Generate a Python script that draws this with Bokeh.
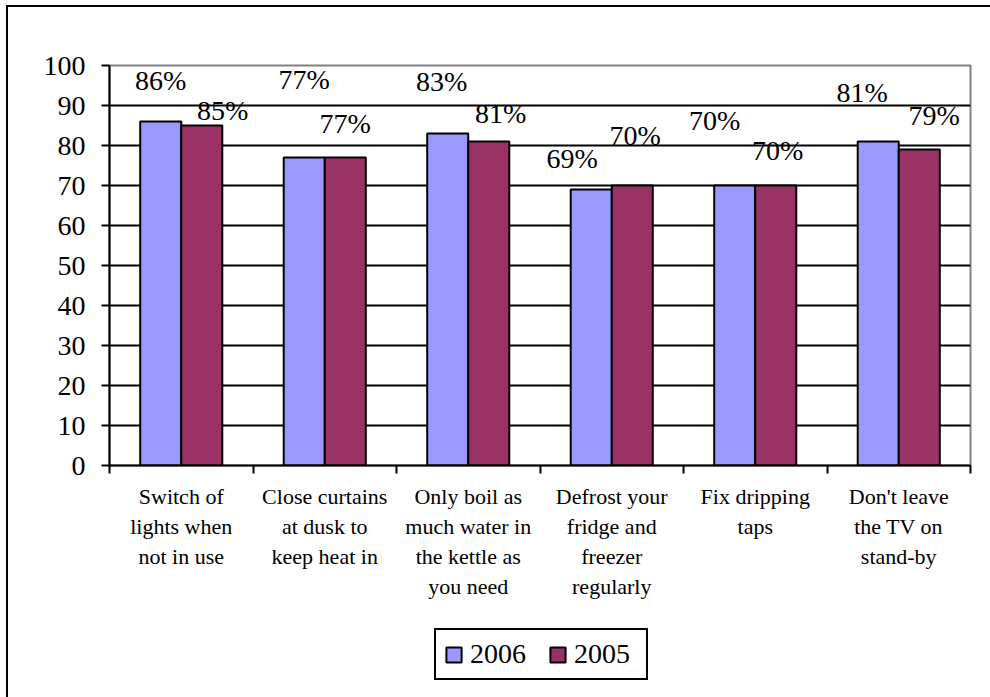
from bokeh.plotting import figure
from bokeh.models import (Range1d, FixedTicker, LinearAxis, Legend, LegendItem,
                          ColumnDataSource, Grid, Column)
from bokeh.transform import dodge
from bokeh.core.properties import value
from bokeh.embed import file_html
from bokeh.resources import INLINE

# ---------------- data ----------------
categories = [
    "Switch of\nlights when\nnot in use",
    "Close curtains\nat dusk to\nkeep heat in",
    "Only boil as\nmuch water in\nthe kettle as\nyou need",
    "Defrost your\nfridge and\nfreezer\nregularly",
    "Fix dripping\ntaps",
    "Don't leave\nthe TV on\nstand-by",
]
series_names = ["2006", "2005"]
values_2006 = [86, 77, 83, 69, 70, 81]
values_2005 = [85, 77, 81, 70, 70, 79]
y_ticks = [0, 10, 20, 30, 40, 50, 60, 70, 80, 90, 100]

# ---------------- layout / style (label nudges in screen px) ----------------
nudge_2006_x = [0, 0, -6, -19, -20, -16]
nudge_2006_y = [-41, -78, -52, -31, -65, -49]
nudge_2005_x = [21, 0, 12, 3, 2, 15]
nudge_2005_y = [-15, -34, -28, -50, -35, -34]
BAR_W = 0.286
FONT = "Liberation Serif"
C2006 = "#9999FF"
C2005 = "#993366"

n = len(categories)
centers = [i + 0.5 for i in range(n)]
bounds = [float(i) for i in range(n + 1)]

src = ColumnDataSource(dict(
    pos=centers,
    v2006=values_2006,
    v2005=values_2005,
    l2006=[f"{v}%" for v in values_2006],
    l2005=[f"{v}%" for v in values_2005],
    dx06=nudge_2006_x, dy06=nudge_2006_y,
    dx05=nudge_2005_x, dy05=nudge_2005_y,
))

p = figure(width=990, height=610, x_range=Range1d(0, n), y_range=Range1d(0, 100),
           output_backend="svg", toolbar_location=None,
           x_axis_type=None, y_axis_type=None,
           min_border_left=109, min_border_right=20, min_border_top=65,
           min_border_bottom=145)
p.background_fill_color = "white"
p.border_fill_color = None
p.outline_line_color = "#808080"
p.outline_line_width = 2

# grid
p.add_layout(Grid(dimension=1, ticker=FixedTicker(ticks=y_ticks[1:-1]),
                  grid_line_color="black", grid_line_width=2))

# axes
yaxis = LinearAxis(ticker=FixedTicker(ticks=y_ticks),
                   axis_line_color="black", axis_line_width=2,
                   major_tick_line_color="black", major_tick_line_width=2,
                   major_tick_out=8, major_tick_in=0,
                   minor_tick_line_color=None,
                   major_label_text_font=FONT, major_label_text_font_size="28px",
                   major_label_text_color="black", major_label_standoff=16)
p.add_layout(yaxis, "left")

xaxis = LinearAxis(ticker=FixedTicker(ticks=centers, minor_ticks=bounds),
                   axis_line_color="black", axis_line_width=2,
                   major_tick_line_color=None, major_tick_out=0, major_tick_in=0,
                   minor_tick_line_color="black", minor_tick_line_width=2,
                   minor_tick_out=8, minor_tick_in=0,
                   major_label_overrides={c: lab for c, lab in zip(centers, categories)},
                   major_label_text_font=FONT, major_label_text_font_size="22px",
                   major_label_text_color="black", major_label_standoff=10)
p.add_layout(xaxis, "below")

# bars
r06 = p.vbar(x=dodge("pos", -BAR_W / 2, range=p.x_range), top="v2006", width=BAR_W,
             source=src, fill_color=C2006, line_color="black", line_width=2)
r05 = p.vbar(x=dodge("pos", BAR_W / 2, range=p.x_range), top="v2005", width=BAR_W,
             source=src, fill_color=C2005, line_color="black", line_width=2)

# data labels
p.text(x=dodge("pos", -BAR_W / 2, range=p.x_range), y="v2006", text="l2006",
       x_offset="dx06", y_offset="dy06", source=src,
       text_font=value(FONT), text_font_size="28px", text_color="black",
       text_align="center", text_baseline="alphabetic")
p.text(x=dodge("pos", BAR_W / 2, range=p.x_range), y="v2005", text="l2005",
       x_offset="dx05", y_offset="dy05", source=src,
       text_font=value(FONT), text_font_size="28px", text_color="black",
       text_align="center", text_baseline="alphabetic")

# legend strip (own small figure underneath, same glyph styles;
# the key glyphs are tiny and sit hidden behind the opaque legend box)
lf = figure(width=990, height=87, x_range=Range1d(0, 1), y_range=Range1d(0, 1),
            output_backend="svg", toolbar_location=None,
            x_axis_type=None, y_axis_type=None,
            min_border_left=0, min_border_right=0, min_border_top=0, min_border_bottom=0)
lf.outline_line_color = None
lf.background_fill_color = None
lf.border_fill_color = None
k06 = lf.vbar(x=[0.5], bottom=[0.48], top=[0.52], width=0.01,
              fill_color=C2006, line_color="black", line_width=2)
k05 = lf.vbar(x=[0.5], bottom=[0.48], top=[0.52], width=0.01,
              fill_color=C2005, line_color="black", line_width=2)
legend = Legend(items=[LegendItem(label=series_names[0], renderers=[k06]),
                       LegendItem(label=series_names[1], renderers=[k05])],
                orientation="horizontal", location=(325, 17),
                border_line_color="black", border_line_width=2, border_line_alpha=1,
                background_fill_color="white", background_fill_alpha=1,
                label_text_font=FONT, label_text_font_size="28px",
                label_text_color="black", label_width=64,
                glyph_width=19, glyph_height=19, label_standoff=7,
                spacing=14, padding=8, margin=0)
lf.add_layout(legend, "center")

page = Column(children=[p, lf], spacing=0,
              styles={"box-shadow": "inset 6px 5px 0 0 white, inset 8px 7px 0 0 black",
                      "background-color": "white"})

open("out.html", "w").write(file_html(page, INLINE))
